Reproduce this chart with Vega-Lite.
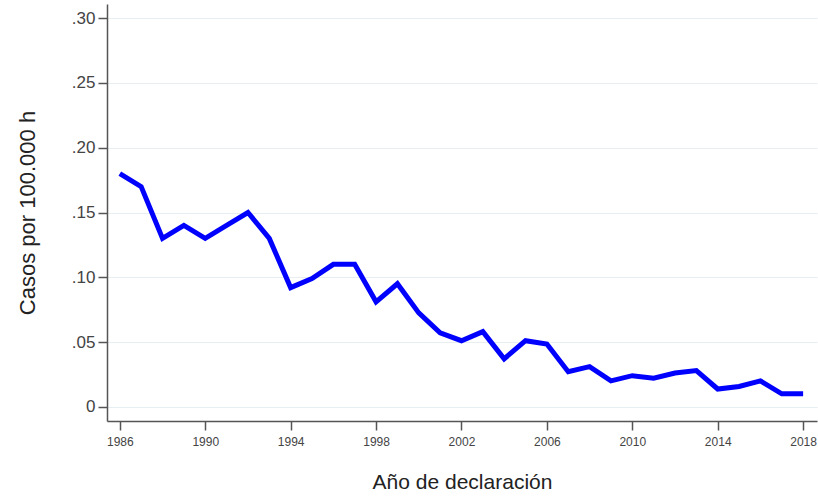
{
  "$schema": "https://vega.github.io/schema/vega-lite/v6.json",
  "width": 710,
  "height": 417,
  "autosize": {"type": "none"},
  "padding": {"left": 107, "top": 4, "right": 1, "bottom": 76},
  "background": "white",
  "config": {"view": {"stroke": null}, "font": "Liberation Sans"},
  "data": {
    "values": [
      {"year": 1986, "rate": 0.18},
      {"year": 1987, "rate": 0.17},
      {"year": 1988, "rate": 0.13},
      {"year": 1989, "rate": 0.14},
      {"year": 1990, "rate": 0.13},
      {"year": 1991, "rate": 0.14},
      {"year": 1992, "rate": 0.15},
      {"year": 1993, "rate": 0.13},
      {"year": 1994, "rate": 0.092},
      {"year": 1995, "rate": 0.099},
      {"year": 1996, "rate": 0.11},
      {"year": 1997, "rate": 0.11},
      {"year": 1998, "rate": 0.081},
      {"year": 1999, "rate": 0.095},
      {"year": 2000, "rate": 0.0725},
      {"year": 2001, "rate": 0.057},
      {"year": 2002, "rate": 0.051},
      {"year": 2003, "rate": 0.058},
      {"year": 2004, "rate": 0.037},
      {"year": 2005, "rate": 0.051},
      {"year": 2006, "rate": 0.0485},
      {"year": 2007, "rate": 0.027},
      {"year": 2008, "rate": 0.031},
      {"year": 2009, "rate": 0.02},
      {"year": 2010, "rate": 0.024},
      {"year": 2011, "rate": 0.022},
      {"year": 2012, "rate": 0.026},
      {"year": 2013, "rate": 0.028},
      {"year": 2014, "rate": 0.0137},
      {"year": 2015, "rate": 0.0157},
      {"year": 2016, "rate": 0.02},
      {"year": 2017, "rate": 0.01},
      {"year": 2018, "rate": 0.01}
    ]
  },
  "mark": {"type": "line", "color": "#0000ff", "strokeWidth": 5, "strokeJoin": "miter"},
  "encoding": {
    "x": {
      "field": "year",
      "type": "quantitative",
      "scale": {"domain": [1985.4, 2018.65], "nice": false, "zero": false},
      "axis": {
        "values": [1986, 1990, 1994, 1998, 2002, 2006, 2010, 2014, 2018],
        "format": "d",
        "grid": false,
        "title": "Año de declaración",
        "titleFont": "Liberation Sans",
        "titleFontSize": 21,
        "titleFontWeight": "normal",
        "titleColor": "#222222",
        "titlePadding": 24,
        "labelFontSize": 12,
        "labelColor": "#444444",
        "labelPadding": 6,
        "tickSize": 9,
        "tickColor": "#555555",
        "tickWidth": 1.5,
        "domainColor": "#555555",
        "domainWidth": 1.5
      }
    },
    "y": {
      "field": "rate",
      "type": "quantitative",
      "scale": {"domain": [-0.011, 0.311], "nice": false, "zero": false},
      "axis": {
        "values": [0, 0.05, 0.1, 0.15, 0.2, 0.25, 0.3],
        "labelExpr": "datum.value == 0 ? '0' : substring(format(datum.value, '.2f'), 1)",
        "grid": true,
        "gridColor": "#e6eef2",
        "gridWidth": 1.2,
        "title": "Casos por 100.000 h",
        "titleFont": "Liberation Sans",
        "titleFontSize": 22,
        "titleFontWeight": "normal",
        "titleColor": "#222222",
        "titlePadding": 32,
        "labelFontSize": 17,
        "labelColor": "#444444",
        "labelPadding": 3,
        "tickSize": 9,
        "tickColor": "#555555",
        "tickWidth": 1.5,
        "domainColor": "#555555",
        "domainWidth": 1.5
      }
    }
  }
}
